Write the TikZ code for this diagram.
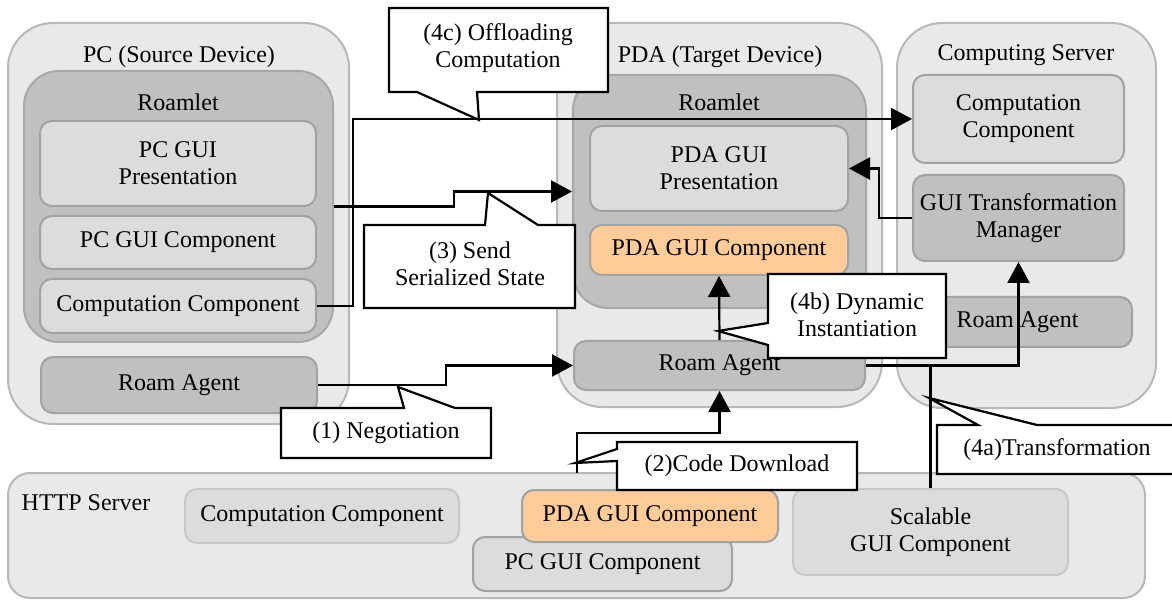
\documentclass[tikz,border=0pt]{standalone}
\usepackage{fontspec}
\setmainfont{Liberation Serif}
\usetikzlibrary{arrows.meta}
\definecolor{devfill}{HTML}{E9E9E9}
\definecolor{devline}{HTML}{B8B8B8}
\definecolor{rlfill}{HTML}{C0C0C0}
\definecolor{rlline}{HTML}{A8A8A8}
\definecolor{cfill}{HTML}{DCDCDC}
\definecolor{cline}{HTML}{A2A2A2}
\definecolor{clight}{HTML}{C8C8C8}
\definecolor{dfill}{HTML}{C0C0C0}
\definecolor{ofill}{HTML}{FFCC99}
\begin{document}
\begin{tikzpicture}[x=1pt,y=-1pt,
  font=\fontsize{24}{27}\selectfont,
  dev/.style={draw=devline, fill=devfill, line width=2pt, rounded corners=45pt, inner sep=0pt},
  roamletbox/.style={draw=rlline, fill=rlfill, line width=2pt, rounded corners=35pt, inner sep=0pt},
  comp/.style={draw=cline, fill=cfill, line width=2pt, rounded corners=12pt, align=center, inner sep=0pt},
  complight/.style={comp, draw=clight},
  dark/.style={comp, fill=dfill},
  orange/.style={comp, fill=ofill},
  conn/.style={draw=black, line width=2.2pt},
  arr/.style={conn, -{Triangle[length=21pt,width=22pt]}},
  callout/.style={draw=black, fill=white, line width=2.2pt},
  lbl/.style={align=center, inner sep=0pt}
]
\clip (0,0) rectangle (1172,601);
\fill[white] (0,0) rectangle (1172,601);

% PC device
\node[dev, minimum width=341pt, minimum height=401pt] (pc) at (178.5,223.5) {};
\node[lbl] (pct) at (179,57) {PC (Source Device)};
\node[roamletbox, minimum width=309pt, minimum height=271pt] (pcrl) at (178.5,206.5) {};
\node[lbl] (pcrlt) at (178,102) {Roamlet};
\node[comp, minimum width=276pt, minimum height=85pt] (pcgp) at (178,163.5) {PC GUI\\Presentation};
\node[comp, minimum width=276pt, minimum height=53pt] (pcgc) at (178,242.5) {PC GUI Component};
\node[comp, minimum width=276pt, minimum height=54pt] (pccc) at (178,306) {Computation Component};
\node[dark, minimum width=276pt, minimum height=56pt] (pcra) at (179,385) {Roam Agent};

% PDA device
\node[dev, minimum width=325pt, minimum height=384pt] (pda) at (719.5,215) {};
\node[lbl] (pdat) at (720,57) {PDA (Target Device)};
\node[roamletbox, minimum width=293pt, minimum height=233pt] (pdarl) at (719.5,191.5) {};
\node[lbl] (pdarlt) at (719,102) {Roamlet};
\node[comp, minimum width=258pt, minimum height=85pt] (pdagp) at (719,168.5) {PDA GUI\\Presentation};
\node[orange, minimum width=258pt, minimum height=50pt] (pdagc) at (719,250) {PDA GUI Component};
\node[dark, minimum width=291pt, minimum height=49pt] (pdara) at (719.5,365.5) {Roam Agent};

% Computing server
\node[dev, minimum width=259pt, minimum height=385pt] (srv) at (1026.5,215.5) {};
\node[lbl] (srvt) at (1026,55) {Computing Server};
\node[comp, minimum width=211pt, minimum height=88pt] (srvcc) at (1018.5,119) {Computation\\Component};
\node[dark, minimum width=211pt, minimum height=86pt] (gtm) at (1018.5,218) {GUI Transformation\\Manager};
\node[dark, minimum width=229pt, minimum height=50pt] (srvra) at (1017.5,322) {Roam Agent};

% HTTP server
\node[dev, rounded corners=22pt, minimum width=1137pt, minimum height=125pt] (http) at (576.5,535.5) {};
\node[lbl] (httpt) at (86,503) {HTTP Server};
\node[complight, minimum width=274pt, minimum height=54pt] (httpcc) at (322,516) {Computation Component};
\node[comp, minimum width=259pt, minimum height=54pt] (httppc) at (602.5,564) {PC GUI Component};
\node[orange, minimum width=256pt, minimum height=52pt] (httppda) at (650,516) {PDA GUI Component};
\node[complight, minimum width=275pt, minimum height=86pt] (scal) at (930.5,532) {Scalable\\GUI Component};

% connectors
\draw[arr] (pccc.east) -- ++(36,0) |- (srvcc.west);
\draw[arr] (pcrl.east) -- ++(120,0) |- (pdarl.west);
\draw[arr] (pcra.east) -- ++(128,0) |- (pdara.west);
\coordinate (c2) at (577,473);
\draw[arr] (c2) -- (577,433) -| (pdara.south);
\draw[arr] (pdara.north) -- (pdagc.south);
\draw[arr] (pdara.east) -| (gtm.south);
\draw[conn] (scal.north) -- (scal.north |- pdara.east);
\draw[arr] (gtm.west) -- ++(-33,0) |- (pdagp.east);

% callouts
\draw[callout] (389,8) -- (608,8) -- (608,92) -- (477,92) -- (479,120) -- (417,92) -- (389,92) -- cycle;
\node[lbl] (l4c) at (498,48) {(4c) Offloading\\Computation};
\draw[callout] (364,225) -- (485,225) -- (488,193) -- (538,225) -- (575,225) -- (575,308) -- (364,308) -- cycle;
\node[lbl] (l3) at (470,264) {(3) Send\\Serialized State};
\draw[callout] (281,408) -- (404,408) -- (398,387) -- (455,408) -- (491,408) -- (491,458) -- (281,458) -- cycle;
\node[lbl] (l1) at (386,433) {(1) Negotiation};
\draw[callout] (617,442) -- (857,442) -- (857,490) -- (617,490) -- (617,461) -- (575,463) -- (617,449) -- cycle;
\node[lbl] (l2) at (737,466) {(2)Code Download};
\draw[callout] (768,274) -- (946,274) -- (946,358) -- (768,358) -- (768,345) -- (718,331) -- (768,323) -- cycle;
\node[lbl] (l4b) at (857,315) {(4b) Dynamic\\Instantiation};
\draw[callout] (937,425) -- (978,425) -- (929,398) -- (1037,425) -- (1200,425) -- (1200,474) -- (937,474) -- cycle;
\node[lbl] (l4a) at (1057,450) {(4a)Transformation};
\end{tikzpicture}
\end{document}
